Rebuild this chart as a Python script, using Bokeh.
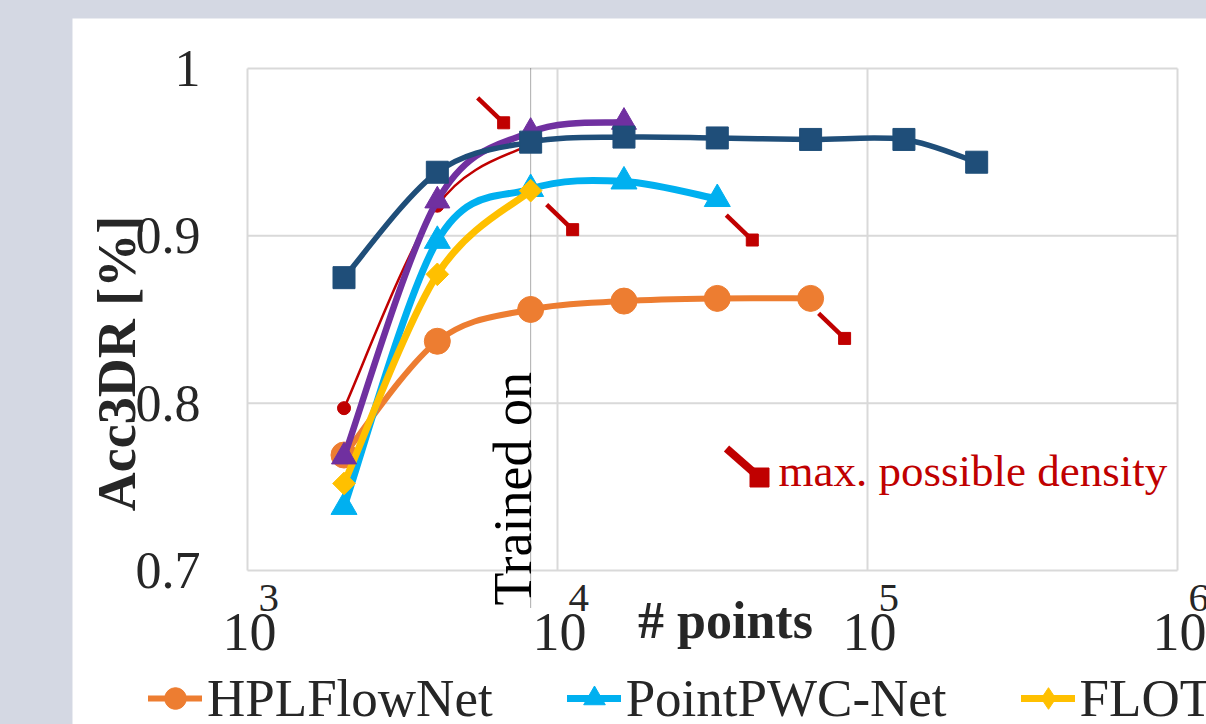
import math
from bokeh.plotting import figure
from bokeh.models import Range1d, Label, Legend, LegendItem, Spacer, ColumnDataSource
from bokeh.layouts import column, row
from bokeh.embed import file_html
from bokeh.resources import INLINE

# ---------------- data ----------------
ours_x = [2048, 4096, 8192, 16384, 32768, 65536, 131072, 225000]
ours_y = [0.875, 0.938, 0.956, 0.959, 0.9585, 0.9576, 0.9576, 0.944]

flownet3d_x = [2048, 4096, 8192, 16384]
flownet3d_y = [0.768, 0.921, 0.962, 0.968]

pwc_x = [2048, 4096, 8192, 16384, 32768]
pwc_y = [0.738, 0.897, 0.928, 0.9325, 0.922]

flot_x = [2048, 4096, 8192]
flot_y = [0.752, 0.877, 0.927]

hpl_x = [2048, 4096, 8192, 16384, 32768, 65536]
hpl_y = [0.769, 0.837, 0.856, 0.861, 0.8626, 0.8626]

red_x = [2048, 4096, 8192]
red_y = [0.797, 0.918, 0.955]

trained_on = 8192
x_ticks = [1e3, 1e4, 1e5, 1e6]
x_exponents = ["3", "4", "5", "6"]
y_ticks = [0.7, 0.8, 0.9, 1.0]
y_tick_labels = ["0.7", "0.8", "0.9", "1"]

# ---------------- geometry (page pixels) ----------------
OFF_L, OFF_T = 72, 18            # white panel origin on the page
FIG_W, FIG_H = 1206 - OFF_L, 724 - OFF_T
PLOT_L, PLOT_R, PLOT_T, PLOT_B = 247, 1177, 68, 570
X0, X1 = 1e3, 1e6
Y0, Y1 = 0.7, 1.0
PX_DEC = (PLOT_R - PLOT_L) / (math.log10(X1) - math.log10(X0))
PX_UNIT = (PLOT_B - PLOT_T) / (Y1 - Y0)


def px_x(px):
    return 10 ** (math.log10(X0) + (px - PLOT_L) / PX_DEC)


def px_y(py):
    return Y0 + (PLOT_B - py) / PX_UNIT


def off(xd, yd, dx, dy):
    return xd * 10 ** (dx / PX_DEC), yd - dy / PX_UNIT


SERIF = "Liberation Serif"
TXT = "#262626"
RED = "#c00000"
GRID = "#d9d9d9"

p = figure(width=FIG_W, height=FIG_H, x_axis_type="log",
           x_range=Range1d(px_x(OFF_L), px_x(OFF_L + FIG_W)),
           y_range=Range1d(px_y(OFF_T + FIG_H), px_y(OFF_T)),
           output_backend="svg", toolbar_location=None,
           min_border=0, min_border_left=0, min_border_right=0,
           min_border_top=0, min_border_bottom=0)
p.background_fill_color = "white"
p.border_fill_color = "white"
p.outline_line_color = None
p.xaxis.visible = False
p.yaxis.visible = False
p.xgrid.visible = False
p.ygrid.visible = False

# plot box and grid
p.segment(x0=x_ticks, y0=[Y0] * len(x_ticks), x1=x_ticks, y1=[Y1] * len(x_ticks),
          line_color=GRID, line_width=2)
p.segment(x0=[X0] * len(y_ticks), y0=y_ticks, x1=[X1] * len(y_ticks), y1=y_ticks,
          line_color=GRID, line_width=2)

# trained-on dotted line
p.segment([trained_on], [Y1], [trained_on], [px_y(607)],
          line_color="#595959", line_width=1, line_dash="1 1")


def smooth(xs, ys):
    u = [math.log10(x) for x in xs]
    n = len(u)
    d = dict(x0=[], y0=[], x1=[], y1=[], cx0=[], cy0=[], cx1=[], cy1=[])
    for i in range(n - 1):
        i0 = max(i - 1, 0)
        i3 = min(i + 2, n - 1)
        c1u = u[i] + (u[i + 1] - u[i0]) / 6
        c1v = ys[i] + (ys[i + 1] - ys[i0]) / 6
        c2u = u[i + 1] - (u[i3] - u[i]) / 6
        c2v = ys[i + 1] - (ys[i3] - ys[i]) / 6
        d["x0"].append(xs[i]); d["y0"].append(ys[i])
        d["x1"].append(xs[i + 1]); d["y1"].append(ys[i + 1])
        d["cx0"].append(10 ** c1u); d["cy0"].append(c1v)
        d["cx1"].append(10 ** c2u); d["cy1"].append(c2v)
    return ColumnDataSource(d)


def series(xs, ys, color, lw, marker, size, angle=0.0):
    lr = p.bezier(x0="x0", y0="y0", x1="x1", y1="y1", cx0="cx0", cy0="cy0",
                  cx1="cx1", cy1="cy1", source=smooth(xs, ys),
                  line_color=color, line_width=lw, line_cap="round")
    sr = p.scatter(xs, ys, marker=marker, size=size, angle=angle,
                   fill_color=color, line_color=color)
    return lr, sr


hpl = series(hpl_x, hpl_y, "#ed7d31", 6, "circle", 26)
pwc = series(pwc_x, pwc_y, "#00b0f0", 7, "triangle", 26)
flot = series(flot_x, flot_y, "#ffc000", 7, "square", 16, math.pi / 4)
red = series(red_x, red_y, RED, 2.5, "circle", 13)
fn3d = series(flownet3d_x, flownet3d_y, "#7030a0", 6.5, "triangle", 25)
ours = series(ours_x, ours_y, "#1f4e79", 5.5, "square", 22)

# legend-only diamond for FLOT (NaN point: nothing drawn in the plot)
flot_leg = p.scatter(x=[float("nan")], y=[float("nan")], marker="diamond", size=22,
                     fill_color="#ffc000", line_color="#ffc000")

# ---------- "max. possible density" icons at series ends ----------
icon_ends = [(pwc_x[-1], pwc_y[-1], 9, 16),
             (hpl_x[-1], hpl_y[-1], 8, 15),
             (flot_x[-1], flot_y[-1], 16, 14),
             (red_x[-1], red_y[-1], -53, -46)]
ix0, iy0, ix1, iy1 = [], [], [], []
for xe, ye, dx, dy in icon_ends:
    a = off(xe, ye, dx, dy)
    b = off(xe, ye, dx + 26, dy + 25)
    ix0.append(a[0]); iy0.append(a[1]); ix1.append(b[0]); iy1.append(b[1])
p.segment(ix0, iy0, ix1, iy1, line_color=RED, line_width=4.5)
p.scatter(ix1, iy1, marker="square", size=12, fill_color=RED, line_color=RED)

# legend icon for max density
p.segment([px_x(726)], [px_y(448)], [px_x(759)], [px_y(477)], line_color=RED, line_width=8)
p.scatter([px_x(759)], [px_y(477)], marker="square", size=19, fill_color=RED, line_color=RED)
p.add_layout(Label(x=px_x(778), y=px_y(470), text="max. possible density",
                   text_font=SERIF, text_font_size="45px", text_color=RED,
                   text_align="left", text_baseline="middle"))

# trained-on text
p.add_layout(Label(x=px_x(512), y=px_y(605), text="Trained on", angle=math.pi / 2,
                   text_font=SERIF, text_font_size="54px", text_color="black",
                   text_align="left", text_baseline="middle"))

# y tick labels
for t, s in zip(y_ticks, y_tick_labels):
    p.add_layout(Label(x=px_x(200), y=t, text=s, text_font=SERIF,
                       text_font_size="52px", text_color=TXT,
                       text_align="right", text_baseline="middle"))

# x tick labels 10^k
for t, e in zip(x_ticks, x_exponents):
    p.add_layout(Label(x=t * 10 ** (2 / PX_DEC), y=px_y(631), text="10",
                       text_font=SERIF, text_font_size="54px", text_color=TXT,
                       text_align="center", text_baseline="middle"))
    p.add_layout(Label(x=t * 10 ** (11 / PX_DEC), y=px_y(597), text=e,
                       text_font=SERIF, text_font_size="41px", text_color=TXT,
                       text_align="left", text_baseline="middle"))

# axis titles
p.add_layout(Label(x=px_x(725), y=px_y(620), text="# points",
                   text_font=SERIF, text_font_size="52px", text_font_style="bold",
                   text_color=TXT, text_align="center", text_baseline="middle"))
p.add_layout(Label(x=px_x(116), y=px_y(363), text="Acc3DR [%]", angle=math.pi / 2,
                   text_font=SERIF, text_font_size="54px", text_font_style="bold",
                   text_color=TXT, text_align="center", text_baseline="middle"))

# legend
legend = Legend(items=[LegendItem(label="HPLFlowNet", renderers=list(hpl)),
                       LegendItem(label="PointPWC-Net", renderers=list(pwc)),
                       LegendItem(label="FLOT", renderers=[flot[0], flot_leg])],
                orientation="horizontal", location=(148 - OFF_L, -4),
                padding=0, margin=0, spacing=74, label_standoff=5,
                glyph_width=54, glyph_height=56,
                label_text_font=SERIF, label_text_font_size="53px",
                label_text_color=TXT, border_line_color=None,
                background_fill_alpha=0)
p.add_layout(legend)

layout = column(Spacer(width=1206, height=OFF_T),
                row(Spacer(width=OFF_L, height=FIG_H), p, spacing=0),
                spacing=0, styles={"background-color": "#d4d8e3"})

open("out.html", "w").write(file_html(layout, INLINE, title="chart"))
